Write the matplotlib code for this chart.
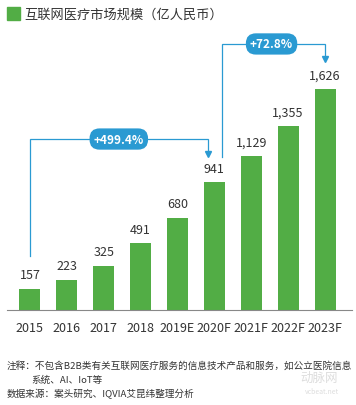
import matplotlib.pyplot as plt
from matplotlib.patches import Rectangle

plt.rcParams['font.family'] = ['Noto Sans CJK SC', 'DejaVu Sans']

# -----------------------------
# Data
# -----------------------------
years = ["2015", "2016", "2017", "2018", "2019E", "2020F", "2021F", "2022F", "2023F"]
market_size = [157, 223, 325, 491, 680, 941, 1129, 1355, 1626]
growth_labels = ["+499.4%", "+72.8%"]

title = "互联网医疗市场规模（亿人民币）"
note_1 = "注释：不包含B2B类有关互联网医疗服务的信息技术产品和服务，如公立医院信息"
note_2 = "系统、AI、IoT等"
source = "数据来源：案头研究、IQVIA艾昆纬整理分析"

GREEN = "#52ad45"
BLUE = "#2a9ad2"
TEXT = "#333333"

W, H = 356, 406
fig = plt.figure(figsize=(W / 100, H / 100), dpi=100)

# plot area in pixel terms
base_px, top_px = 311, 30
ax = fig.add_axes([7 / W, (H - base_px) / H, 345 / W, (base_px - top_px) / H])
x = list(range(len(years)))
ax.bar(x, market_size, width=0.57, color=GREEN)
ax.set_xlim(-0.62, 8.73)
ax.set_ylim(0, 2066)

for xi, v in zip(x, market_size):
    ax.text(xi, v + 55, f"{v:,}", ha='center', va='bottom', fontsize=9, color=TEXT)

ax.set_xticks(x)
ax.set_xticklabels(years, fontsize=9, color=TEXT)
ax.tick_params(axis='x', length=0, pad=8)
ax.set_yticks([])
for s in ["top", "right", "left"]:
    ax.spines[s].set_visible(False)
ax.spines["bottom"].set_color("#888888")
ax.spines["bottom"].set_linewidth(0.8)


def bracket(x0, y0, x1, y_top, y_tip, label, label_x):
    ax.plot([x0, x0, x1, x1], [y0, y_top, y_top, y_tip + 40],
            color=BLUE, lw=0.9, solid_joinstyle='miter')
    ax.plot([x1], [y_tip + 25], marker='v', color=BLUE, markersize=5, mec=BLUE)
    ax.text(label_x, y_top, label, ha='center', va='center', fontsize=8.5,
            fontweight='bold', color='white',
            bbox=dict(boxstyle='round,pad=0.35,rounding_size=0.85', fc=BLUE, ec='none'))


# brackets comparing 2015 -> 2020F and 2020F -> 2023F
bracket(0, market_size[0] + 240, 4.83, market_size[5] + 316, market_size[5] + 184,
        growth_labels[0], 2.41)
bracket(5.22, market_size[5] + 184, 8, market_size[8] + 330, market_size[8] + 198,
        growth_labels[1], 6.55)

# title with green square
fig.patches.append(Rectangle((7 / W, 1 - 21 / H), 13 / W, 13 / H,
                             transform=fig.transFigure, color=GREEN))
fig.text(24 / W, 1 - 15 / H, title, fontsize=9.5, color=TEXT, va='center', ha='left')

# footnotes
fig.text(7 / W, 1 - 366 / H, note_1, fontsize=6.9, color=TEXT, va='center')
fig.text(31 / W, 1 - 380 / H, note_2, fontsize=6.9, color=TEXT, va='center')
fig.text(7 / W, 1 - 394 / H, source, fontsize=6.9, color=TEXT, va='center')

# faint watermark logo
fig.text(300 / W, 1 - 378 / H, "动脉网", fontsize=9, color="#dddddd", va='center')
fig.text(305 / W, 1 - 392 / H, "vcbeat.net", fontsize=5, color="#dddddd", va='center')

fig.savefig("out.png", dpi=100)
